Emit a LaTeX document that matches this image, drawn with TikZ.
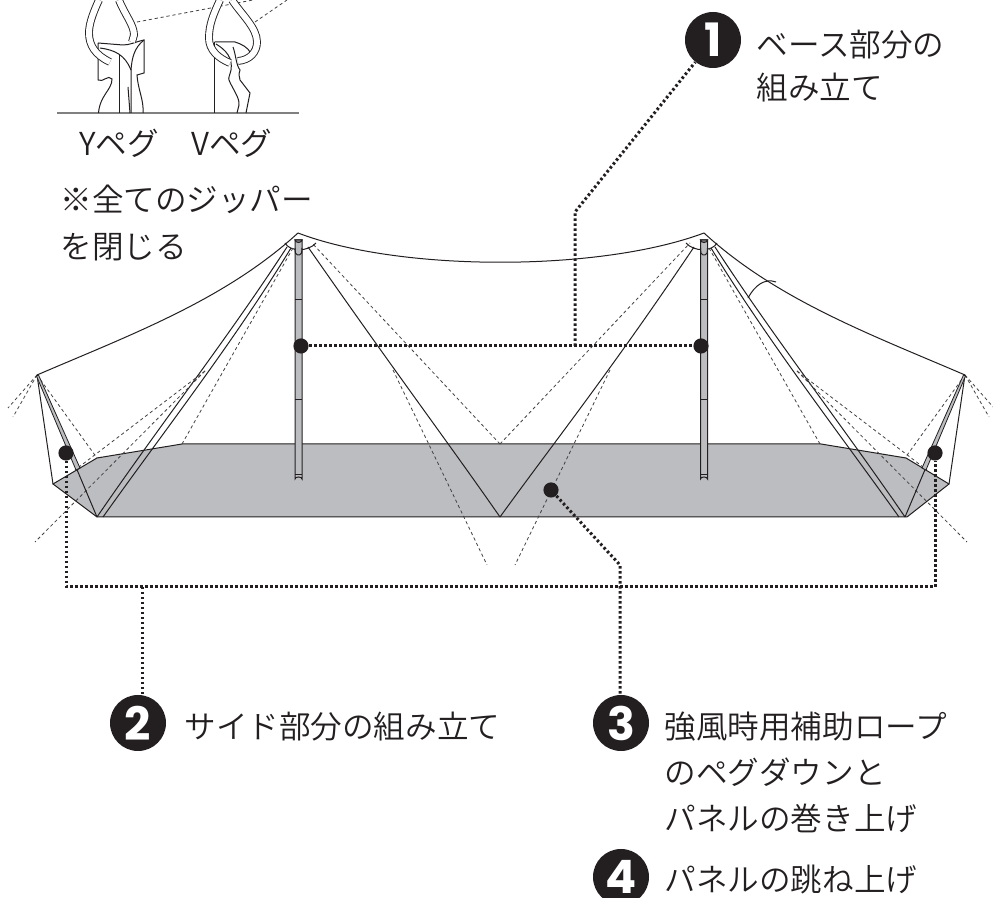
\documentclass[tikz,border=0pt]{standalone}
\usepackage{fontspec}
\setmainfont{Noto Sans CJK JP DemiLight}
\newfontfamily\badgefont{Poppins}
\usetikzlibrary{calc,positioning}
\definecolor{floorgray}{HTML}{BCBDC0}
\definecolor{inkblack}{HTML}{231F20}
\tikzset{
  thinline/.style={draw=inkblack,line width=.5pt},
  ropeline/.style={draw=inkblack!85,line width=.4pt,dash pattern=on 1.6pt off 1.4pt},
  leader/.style={draw=inkblack,line width=1.5pt,dash pattern=on 1.25pt off 1.25pt},
  blackdot/.style={circle,fill=inkblack,inner sep=0pt,minimum size=7.6pt},
  numbadge/.style={circle,fill=inkblack,text=white,inner sep=0pt,minimum size=28pt,font=\fontsize{23}{23}\badgefont\bfseries},
  caption/.style={anchor=west,inner sep=0pt,text=inkblack,font=\fontsize{15.8}{15.8}\selectfont},
  pegrope/.style={draw=inkblack,line width=.45pt,double=white,double distance=3pt},
}
\begin{document}
\begin{tikzpicture}[x=.5pt,y=-.5pt]
\useasboundingbox (0,0) rectangle (993,898);

%床面
\fill[floorgray] (53,484)--(97,458)--(182,444)--(821,444)--(906,458)--(949,484)--(907,517)--(97,517)--cycle;
\draw[thinline] (53,484)--(97,458)--(182,444)--(821,444)--(906,458)--(949,484)--(907,517)--(97,517)--cycle;

%屋根の線
\coordinate (cLApex) at (298,233);
\coordinate (cRApex) at (704,233);
\draw[thinline] (cLApex) .. controls (400,272) and (600,272) .. (cRApex);
\draw[thinline] (500,517) .. controls (450,445) and (395,372) .. (308,247);
\draw[thinline] (500,517) .. controls (552,445) and (610,372) .. (694,247);
\draw[ropeline] (500,444)--(312,243);
\draw[ropeline] (500,444)--(690,243);
\draw[ropeline] (393,370)--(487,565);
\draw[ropeline] (610,370)--(515,565);

%左右の側面
\foreach \m/\s in {0/1,1002/-1}
{
    \begin{scope}[shift={(\m,0)},xscale=\s]
    \coordinate (cTipPt) at (37,375);
    \coordinate (cArcAPt) at (285,243);
    \coordinate (cArcBPt) at (316,243);

    \draw[thinline] (cTipPt) .. controls (130,335) and (225,300) .. (298,233);
    \draw[thinline] (cArcAPt) .. controls (290,252) and (308,252) .. (cArcBPt);
    \draw[thinline] (97,517) .. controls (160,425) and (230,335) .. (287,247);
    \draw[thinline] (103,517) .. controls (165,430) and (235,340) .. (291,248);
    \draw[ropeline] (182,444)--(293,248);
    \draw[ropeline] (205,371)--(35,542);
    \draw[ropeline] (205,371)--(75,470);
    \draw[ropeline] (cTipPt)--(8,408);
    \draw[ropeline] (cTipPt)--(13,417);
    \draw[ropeline] (cTipPt)--(97,458);
    \draw[thinline] (cTipPt)--(53,484);
    \draw[thinline] (cTipPt)--(97,517);
    \draw[thinline,fill=floorgray,line width=.4pt] (36.5,376)--(38.5,375)--(80,468)--(76,470)--cycle;
    \end{scope}
}

%ポール
\foreach \x in {298.5,704}
{
    \begin{scope}[shift={(\x,0)}]
    \draw[thinline,fill=floorgray] (-3.5,240)--(3.5,240)--(3.5,479) arc (0:-180:3.5 and 2) --cycle;
    \draw[thinline,fill=gray] (-3.5,240) arc (180:0:3.5 and 2.5) --cycle;
    \draw[thinline] (-3.5,300)--(3.5,300);
    \draw[thinline] (-3.5,400)--(3.5,400);
    \draw[thinline] (-3.5,475)--(3.5,475);
    \draw[thinline,rounded corners=1pt] (-3.5,248)--(-3,255)--(3,255)--(3.5,248);
    \end{scope}
}
\draw[thinline] (748,298) .. controls (755,285) and (765,278) .. (776,282);

%ペグ
\draw[ropeline] (137,22)--(253,0);
\draw[ropeline] (255,22)--(287,0);
\draw[draw=gray,line width=.9pt] (57,113)--(299,113);
\draw[thinline] (98,43)--(98,80) .. controls (103,83) and (108,74) .. (112,79) .. controls (112,90) and (100,95) .. (98.5,113);
\draw[thinline] (119,55)--(119,113);
\draw[thinline] (98,43)--(123,45) .. controls (130,45) and (135,42) .. (144,40)--(144,73)--(137,75) .. controls (138,90) and (144,100) .. (143,113);
\draw[thinline] (100,48) .. controls (115,50) and (125,55) .. (131,70)--(131,113);
\draw[thinline] (131,70) .. controls (132,58) and (134,48) .. (144,40);
\draw[thinline] (128,87)--(130,113);
\draw[thinline] (214.5,42)--(214.5,113);
\draw[thinline] (214.5,42)--(235,42) .. controls (242,44) and (248,48) .. (250,52);
\draw[thinline] (216,44) .. controls (226,50) and (233,58) .. (231,70) .. controls (230,75) and (228,78) .. (229,80) .. controls (232,88) and (240,98) .. (239,105)--(237,113);
\draw[thinline] (233,47) .. controls (236,55) and (236,65) .. (240,70) .. controls (238,75) and (240,78) .. (240,80)--(250,93)--(246,113);
\draw[pegrope] (99,0) .. controls (92,15) and (89,25) .. (89,33) .. controls (89,45) and (95,55) .. (110,62);
\draw[pegrope] (119,0) .. controls (125,15) and (134,25) .. (134,35)--(132,42);
\draw[pegrope] (220,0) .. controls (213,15) and (209,25) .. (209,38) .. controls (209,50) and (218,58) .. (230,63);
\draw[pegrope] (232,0) .. controls (242,15) and (257,28) .. (257,42) .. controls (257,52) and (250,60) .. (238,61);

%文字
\node[caption,anchor=center] (nYPeg) at (119,143) {Yペグ};
\node[caption,anchor=center] (nVPeg) at (232,143) {Vペグ};
\node[caption] (nZipA) at (60,199) {※全てのジッパー};
\node[caption] (nZipB) at (60,247) {を閉じる};

\node[numbadge] (nBadgeA) at (713,40) {1};
\node[numbadge] (nBadgeB) at (138,723) {2};
\node[numbadge] (nBadgeC) at (621,723) {3};
\node[numbadge] (nBadgeD) at (621,877) {4};
\node[caption] (nBaseA) at (756,45) {ベース部分の};
\node[caption] (nBaseB) at (756,88) {組み立て};
\node[caption] (nSide) at (184,727) {サイド部分の組み立て};
\node[caption] (nRopeA) at (664,727) {強風時用補助ロープ};
\node[caption] (nRopeB) at (664,772) {のペグダウンと};
\node[caption] (nRopeC) at (664,818) {パネルの巻き上げ};
\node[caption] (nPanel) at (664,880) {パネルの跳ね上げ};

%引き出し線
\node[blackdot] (nPoleL) at (301,346) {};
\node[blackdot] (nPoleR) at (701,346) {};
\node[blackdot] (nSideL) at (66,453) {};
\node[blackdot] (nSideR) at (935,453) {};
\node[blackdot] (nFloor) at (551,490) {};
\coordinate (cBaseTop) at (575,346);
\coordinate (cBaseBend) at (575,212);
\coordinate (cSideBL) at (66,587);
\coordinate (cSideBR) at (935,587);
\coordinate (cSideMid) at (142,587);
\coordinate (cSideEnd) at (142,695);
\coordinate (cFloorBend) at (620,565);
\coordinate (cFloorEnd) at (620,695);
\draw[leader] (nPoleL)--(nPoleR);
\draw[leader] (cBaseTop)--(cBaseBend)--(nBadgeA);
\draw[leader] (nSideL)--(cSideBL)--(cSideBR)--(nSideR);
\draw[leader] (cSideMid)--(cSideEnd);
\draw[leader] (nFloor)--(cFloorBend)--(cFloorEnd);
\end{tikzpicture}
\end{document}
